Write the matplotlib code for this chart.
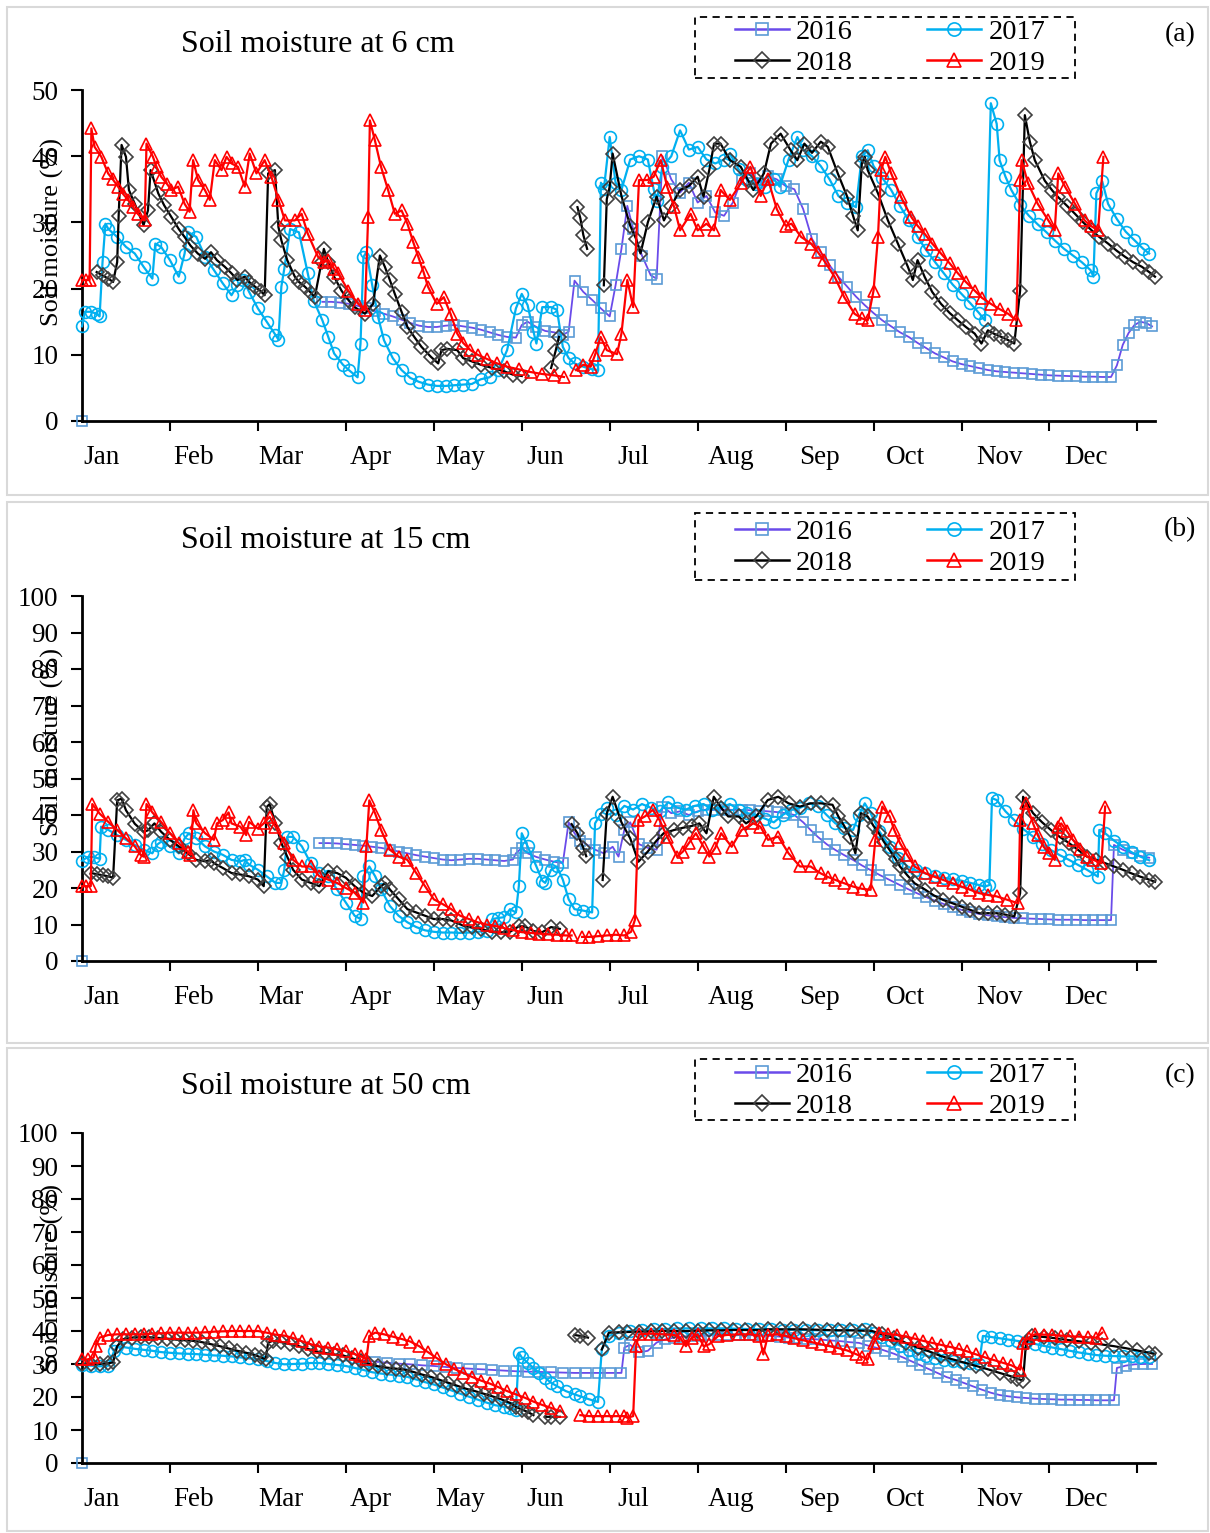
import numpy as np
import matplotlib
matplotlib.use("Agg")
import matplotlib.pyplot as plt
from matplotlib.lines import Line2D
from matplotlib.patches import Rectangle

nan = np.nan

years = ["2016", "2017", "2018", "2019"]
months = ["Jan", "Feb", "Mar", "Apr", "May", "Jun", "Jul", "Aug", "Sep", "Oct", "Nov", "Dec"]
month_label_days = [6.6, 38, 68, 98.4, 129, 158, 188, 221.5, 251.4, 281, 313, 342.6]
titles = ["Soil moisture at 6 cm", "Soil moisture at 15 cm", "Soil moisture at 50 cm"]
panel_tags = ["(a)", "(b)", "(c)"]
y_max = [50, 100, 100]

# ---------------- 6 cm (day of year, soil moisture %) ----------------
s16_6 = [(0,0),(1,nan),(82,18.0),(85,18.0),(88,17.9),(91,17.7),(94,17.4),(97,17.0),(100,16.6),(103,16.2),(106,15.8),(109,15.3),(112,14.8),(115,14.4),(118,14.2),(121,14.2),(124,14.4),(127,14.5),(130,14.3),(133,14.1),(136,13.8),(139,13.4),(142,13.0),(145,12.7),(148,12.6),(150,14.5),(152,15.0),(155,14.2),(158,13.6),(161,13.4),(164,13.0),(166,13.5),(168,21.2),(171,19.5),(174,18.3),(177,17.0),(180,15.8),(182,20.5),(184,26.0),(186,32.5),(188,29.0),(191,25.0),(194,22.0),(196,21.5),(198,40.0),(201,36.5),(204,34.5),(207,36.0),(210,33.0),(213,34.0),(216,31.5),(219,31.0),(222,33.0),(225,36.5),(228,37.5),(231,36.0),(234,37.0),(237,36.5),(240,35.5),(243,35.0),(246,32.0),(249,27.5),(252,25.5),(255,23.5),(258,21.8),(261,20.3),(264,18.8),(267,17.5),(270,16.3),(273,15.2),(276,14.3),(279,13.4),(282,12.7),(285,11.8),(288,11.0),(291,10.2),(294,9.6),(297,9.0),(300,8.6),(303,8.3),(306,8.0),(309,7.7),(312,7.5),(315,7.4),(318,7.3),(321,7.2),(324,7.1),(327,7.0),(330,6.9),(333,6.85),(336,6.8),(339,6.75),(342,6.7),(345,6.7),(348,6.65),(351,6.65),(353,8.4),(355,11.5),(357,13.3),(359,14.5),(361,15.0),(363,14.8),(365,14.3)]
s17_6 = [(0,14.3),(1,16.5),(3,16.5),(5,16.2),(6,15.8),(7,24.0),(8,29.8),(9,29.0),(12,27.8),(15,26.3),(18,25.3),(21,23.3),(24,21.5),(25,26.8),(27,26.3),(30,24.3),(33,21.8),(35,25.3),(36,28.6),(39,27.8),(42,24.8),(45,22.8),(48,20.8),(51,19.0),(53,20.5),(55,21.3),(57,19.5),(60,17.0),(63,15.0),(66,13.0),(67,12.3),(68,20.3),(69,23.0),(71,29.0),(74,28.5),(77,22.3),(79,18.2),(82,15.2),(84,12.7),(86,10.2),(89,8.5),(91,7.7),(94,6.6),(95,11.7),(96,24.8),(97,25.5),(99,20.5),(101,15.7),(103,12.2),(106,9.5),(109,7.7),(112,6.5),(115,5.9),(118,5.5),(121,5.3),(124,5.3),(127,5.4),(130,5.5),(133,5.6),(136,6.3),(139,6.6),(142,7.7),(145,10.7),(148,17.0),(150,19.2),(152,17.5),(154,13.5),(155,11.7),(157,17.2),(160,17.2),(162,16.8),(164,11.2),(166,9.5),(168,8.7),(171,8.2),(174,7.8),(176,7.7),(177,36.0),(178,35.0),(180,42.9),(182,36.0),(184,34.9),(187,39.5),(190,40.0),(193,39.5),(195,35.0),(196,33.2),(198,38.4),(201,40.0),(204,43.9),(207,41.0),(210,41.4),(213,39.5),(216,38.9),(219,39.5),(221,40.4),(224,38.0),(227,36.4),(230,35.8),(233,35.4),(236,36.5),(238,35.4),(241,39.5),(244,42.9),(246,41.0),(249,40.0),(252,38.5),(255,36.5),(258,34.0),(261,33.0),(264,32.3),(266,40.0),(268,40.9),(270,38.5),(273,36.7),(276,34.9),(279,32.5),(282,30.3),(285,27.8),(288,25.8),(291,24.0),(294,22.3),(297,20.6),(300,19.2),(303,17.8),(306,16.3),(308,15.2),(310,48.0),(312,44.9),(313,39.4),(315,36.9),(317,34.9),(320,32.6),(323,31.0),(326,29.7),(329,28.5),(332,27.2),(335,26.0),(338,25.0),(341,24.0),(344,22.8),(345,21.8),(346,34.4),(348,36.2),(350,32.8),(353,30.5),(356,28.6),(359,27.3),(362,26.0),(364,25.3)]
s18_6 = [(5,22.5),(7,22.0),(9,21.5),(10.6,21.0),(12,24.0),(12.5,31.0),(13.5,41.7),(15,39.9),(16,34.9),(18,32.8),(21,29.6),(22.5,31.8),(23.4,37.9),(26,34.4),(28,32.6),(30.5,30.8),(33,29.0),(35,27.8),(37,26.5),(39.5,25.3),(42,24.5),(44,25.5),(46,24.3),(48.7,23.3),(51,22.3),(53,21.3),(55.5,21.8),(57,21.0),(59,20.3),(61,19.6),(62.3,19.0),(63.5,37.4),(65.8,37.9),(67,29.3),(68,27.3),(70,24.3),(72.6,21.8),(74,21.0),(76,20.3),(78,19.4),(79.4,18.7),(81.7,24.0),(82.5,26.0),(84,24.0),(86,21.8),(88.5,19.7),(91,18.2),(93,17.2),(96.5,16.2),(99.3,17.7),(101.6,25.0),(103.3,23.3),(105,21.3),(106.7,19.2),(109,16.5),(111,14.2),(113.5,12.6),(115.8,11.2),(119,9.7),(121.5,8.7),(122.6,10.7),(124.6,10.9),(128,10.7),(130,9.5),(133,9.0),(136,8.5),(140,8.0),(144,7.5),(147,7.0),(150,6.8),(151,nan),(160,8.0),(161.5,10.5),(162.7,12.7),(163,nan),(169,32.3),(170,30.6),(171,28.1),(172.3,26.0),(173,nan),(178,20.5),(179,33.5),(180,35.4),(181,40.4),(184,34.0),(187,29.5),(189,27.5),(190.5,25.3),(193,30.0),(196,33.9),(198.5,30.3),(201,32.5),(204,34.9),(207,35.5),(210,36.9),(212,33.9),(214,38.0),(215.6,41.9),(217.8,41.9),(221,39.4),(224.7,38.4),(227,36.5),(229,34.9),(232.6,37.4),(235,41.9),(238.3,43.4),(241.7,40.9),(244,39.4),(246.4,41.9),(249,40.5),(252,42.2),(254.4,41.4),(257.8,37.4),(261,33.9),(263,31.0),(264.6,28.8),(266,38.9),(267,39.9),(268,37.9),(271.5,34.4),(274.9,30.3),(278.3,26.8),(281.7,23.3),(283.4,21.3),(285,24.3),(287.4,21.8),(290,19.5),(293,17.7),(296,16.3),(298.8,15.2),(301.5,14.2),(304.5,13.2),(306.8,11.7),(309,13.7),(311,13.2),(313.6,12.7),(316,12.2),(318,11.7),(320,19.7),(321.6,46.2),(323.3,42.2),(325,39.4),(328.4,36.3),(331,34.8),(333,33.8),(336,32.5),(338.7,31.3),(341.5,30.0),(344.4,28.8),(347,27.8),(350,26.8),(353,25.7),(355.8,24.8),(358.5,24.0),(361.5,23.3),(364,22.5),(366,21.8)]
s19_6 = [(0,21.3),(1.5,21.3),(2.6,21.3),(3.2,44.2),(4.3,41.4),(6.6,39.9),(8.9,37.4),(10.5,36.5),(12.3,35.4),(14,34.3),(15.7,33.4),(17.5,32.3),(19,31.3),(21.4,30.3),(22,41.9),(24.2,39.9),(25.5,38.3),(27,36.9),(29,35.8),(30.5,34.9),(32.8,35.4),(35,32.8),(36.7,31.6),(37.9,39.4),(39.6,36.4),(41.9,34.9),(43.6,33.4),(45.3,39.4),(47.6,37.9),(49.3,39.9),(51,38.9),(53.2,38.4),(55.5,35.4),(57.2,40.4),(59.5,37.4),(62.3,39.4),(64.6,36.9),(67,33.4),(69.2,30.3),(72.6,30.3),(74.9,31.3),(77,28.3),(80.5,24.8),(82.5,24.0),(84,24.3),(86,23.0),(87.4,22.3),(90.8,19.7),(94.2,17.7),(96.5,16.7),(97.6,30.8),(98.2,45.4),(99.9,42.4),(102,38.4),(104.4,34.9),(106.7,31.3),(109,31.8),(111,29.8),(113,27.0),(114.7,24.8),(116.5,22.5),(118,20.3),(121,17.7),(123.4,18.7),(125.7,16.2),(128,13.2),(130,11.8),(132.5,10.7),(135,10.0),(138,9.4),(141.6,8.7),(145,8.2),(149,7.8),(153,7.4),(157,7.1),(161,6.9),(164.4,6.65),(166,nan),(168.5,7.7),(171,8.5),(173.5,8.2),(175,10.0),(176.9,12.7),(179,10.7),(182.5,10.1),(184,13.2),(186,21.3),(188,17.2),(190,36.4),(192.8,36.4),(195,36.9),(197.4,39.4),(199.6,35.4),(202,32.3),(204,28.8),(207.6,31.3),(210,28.8),(213,29.8),(215.6,28.8),(217.8,34.9),(221,33.4),(224.7,35.9),(228,38.4),(231.5,34.0),(234,36.5),(237,32.0),(240,29.5),(242,29.8),(245.3,27.8),(248.7,26.8),(251,25.5),(253,24.3),(256.7,21.8),(260,18.7),(263.5,16.2),(266,15.5),(268,15.2),(270,19.7),(271.5,27.8),(272.6,37.9),(274,39.9),(276,37.4),(279.4,33.8),(282.9,30.8),(285,29.5),(287.4,28.3),(290,26.8),(293,25.3),(296,23.8),(298.8,22.3),(301.5,21.0),(304.5,19.7),(307,18.6),(310,17.7),(313,16.9),(315.9,16.2),(318.7,15.2),(320,36.4),(320.5,39.4),(322.7,35.9),(326,32.8),(329.6,30.3),(331.8,28.8),(333,37.4),(335.3,35.4),(338.7,32.8),(342,30.3),(344,29.5),(346.6,28.8),(348.4,39.9)]

# ---------------- 15 cm ----------------
s16_15 = [(0,0),(1,nan),(81,32.3),(84,32.3),(87,32.2),(90,32.0),(93,31.8),(96,31.6),(99,31.3),(102,31.0),(105,30.5),(108,30.0),(111,29.5),(114,29.0),(117,28.6),(120,28.2),(123,27.8),(126,27.6),(129,27.8),(132,28.0),(135,28.0),(138,27.8),(141,27.6),(144,27.4),(147,27.8),(148,29.5),(150,31.0),(152,29.5),(155,28.5),(158,27.8),(161,27.2),(164,26.8),(166,38.0),(168,35.0),(170,33.0),(172,32.0),(175,30.5),(178,29.5),(181,31.3),(183,28.6),(185,36.0),(187,38.0),(190,32.0),(193,31.0),(196,30.5),(198,42.3),(201,40.5),(204,41.0),(207,40.0),(210,41.0),(213,41.5),(216,41.4),(219,41.5),(222,41.4),(225,41.4),(228,41.3),(231,41.2),(234,41.0),(237,40.8),(240,40.5),(243,40.0),(246,38.0),(248.5,35.9),(251,34.0),(254,32.0),(257,30.4),(260,29.0),(263,27.7),(266,26.2),(269,24.9),(272,23.6),(275.5,22.2),(279,20.8),(282,19.6),(285,18.5),(288,17.5),(291,16.5),(294,15.6),(297,14.8),(300,14.0),(303,13.4),(306,12.9),(309,12.5),(312,12.2),(315,12.0),(318,11.8),(321,11.7),(324,11.6),(327,11.5),(330,11.4),(333,11.3),(336,11.3),(339,11.3),(342,11.2),(345,11.2),(348,11.2),(351,11.2),(352,31.8),(355,30.5),(358,29.5),(361,28.8),(364,28.3)]
s17_15 = [(0,27.5),(2,28.5),(4,28.5),(6,28.0),(6.5,36.8),(9,35.9),(12,34.5),(15,33.2),(18,31.8),(21,30.5),(24,29.5),(25.5,31.8),(27,32.7),(30,31.4),(33,29.5),(35,33.6),(36.5,35.0),(39,33.6),(42,31.4),(45,30.0),(48,29.1),(51,27.7),(54,27.3),(55.5,27.7),(57,26.4),(60,25.0),(63,23.2),(66,21.4),(68,21.4),(69,25.0),(70,34.0),(72,34.0),(75,31.4),(78,26.8),(81,24.1),(84,23.2),(87,19.6),(90,16.0),(93,12.4),(95,11.5),(96,23.2),(98,25.9),(100,23.2),(102,19.6),(105,15.1),(108,12.4),(111,10.6),(114,9.3),(117,8.4),(120,8.0),(123,7.8),(126,7.8),(129,7.7),(132,7.8),(135,8.0),(138,8.3),(140,11.5),(142,11.8),(144,12.0),(146,14.2),(148,13.3),(149,20.5),(150,35.0),(152,31.4),(155,25.9),(157,22.0),(158,21.4),(160,25.0),(162,25.9),(164,22.3),(166,16.9),(168,14.2),(171,13.8),(174,13.3),(175,37.7),(177,40.4),(179,42.0),(182,40.0),(185,42.5),(188,41.5),(191,43.0),(194,42.0),(197,41.0),(200,43.5),(203,42.0),(206,41.5),(209,42.5),(212,43.0),(215,41.5),(218,42.0),(221,43.0),(224,41.5),(227,40.5),(230,40.0),(233,39.0),(236,38.0),(239,40.0),(242,41.5),(245,42.0),(248,43.2),(251,42.5),(254,40.0),(257,37.7),(260,36.5),(263,35.9),(265,40.0),(267,43.2),(269,40.5),(272,35.5),(275.5,31.3),(278.5,28.2),(281.6,25.9),(284.5,24.8),(287.7,24.0),(291,23.3),(294,22.8),(297,22.4),(300,22.0),(303,21.4),(306,20.8),(308,20.4),(309.5,20.8),(310.4,44.6),(312,44.1),(315,41.0),(318,38.6),(321,36.2),(324.4,34.1),(327.5,32.1),(330.5,30.4),(333.5,29.0),(336.7,27.7),(339.8,26.3),(342.8,25.0),(346.5,23.1),(347,35.9),(349,35.0),(352,33.0),(355,31.3),(358,29.8),(361,28.6),(364,27.6)]
s18_15 = [(3,24.1),(5,23.8),(7,23.5),(9,23.2),(10.6,22.8),(12,44.0),(13.5,44.5),(15,41.3),(18,37.6),(21,35.4),(22.5,35.8),(24.7,37.7),(27,35.4),(30,33.2),(33,31.4),(36,29.5),(39,27.7),(42,27.3),(44,27.7),(45,26.8),(48,25.5),(51,24.1),(54,23.7),(57,23.2),(60,22.3),(62,20.5),(63,42.2),(64,43.0),(66,37.7),(68,32.3),(70,28.6),(72,25.0),(75,22.3),(78,21.4),(81,20.5),(84,24.6),(87,24.1),(90,22.8),(93,20.5),(96,18.7),(99,17.8),(102,20.5),(103.5,21.4),(105,19.6),(108,16.9),(111,14.2),(114,13.3),(117,12.4),(120,11.5),(123,11.5),(126,11.1),(130,9.7),(133,9.2),(136,8.8),(140,7.9),(143,7.9),(146,8.0),(149,9.5),(151,9.5),(154,8.2),(157,7.9),(160,9.3),(163,8.8),(164,nan),(167,37.5),(169,35.0),(171,31.0),(172,28.7),(173,nan),(177.6,22.2),(179,40.4),(181,45.0),(184,38.0),(187,33.6),(189.8,27.2),(193,30.0),(196,33.0),(198.4,35.0),(202,35.9),(205,36.5),(208,37.0),(210.6,37.7),(213,35.0),(215.5,45.0),(218,42.0),(220.4,39.6),(224,39.6),(226.5,37.7),(230,39.6),(233.9,44.1),(237.5,45.0),(241,43.2),(244.9,42.3),(248.5,43.2),(252,43.2),(256,42.8),(258,39.6),(260,37.0),(262,34.1),(263.8,29.5),(265.7,40.5),(268,39.6),(270,37.0),(271.8,35.0),(273.5,32.7),(275.5,30.4),(277.5,28.0),(279,25.9),(281.5,23.5),(284,21.3),(287.7,19.5),(290.5,18.0),(293.8,16.7),(297,15.8),(300,14.9),(303,14.0),(306,13.1),(309,13.1),(312,13.1),(315,12.7),(318,12.2),(320,18.6),(321,45.0),(324.4,40.5),(327.5,38.0),(330.5,35.9),(333.5,34.0),(336.7,32.3),(339.8,30.4),(342.8,28.6),(346,27.7),(349,26.8),(352,25.9),(355,25.0),(358,24.0),(361,23.1),(364,22.3),(366,21.7)]
s19_15 = [(0,20.5),(1.5,20.5),(3,20.5),(3.5,43.0),(6,40.4),(9,38.1),(12,35.9),(15,33.6),(18,31.4),(20,29.1),(21,28.6),(22,43.0),(24,40.7),(27,38.1),(30,35.0),(33,32.3),(36,30.0),(37,29.1),(38,41.3),(39,37.7),(42,35.0),(45,33.2),(46,37.7),(48,38.6),(50,40.7),(51,37.7),(54,36.8),(56,34.5),(57,38.1),(60,36.3),(62,37.7),(64,39.5),(66,36.8),(69,32.3),(72,27.7),(75,25.9),(78,25.9),(81,23.2),(84,22.3),(87,21.4),(90,20.0),(93,18.7),(96,16.0),(97,31.4),(98,44.0),(100,40.4),(102,35.9),(105,30.5),(108,28.6),(111,27.7),(114,24.1),(117,20.5),(120,16.9),(123,15.6),(126,14.2),(129,12.4),(132,11.5),(135,10.6),(138,10.0),(141,9.6),(144,9.0),(147,8.5),(150,7.9),(153,7.7),(156,7.5),(159,7.3),(162,7.2),(165,7.0),(167,7.0),(168,nan),(170.6,6.6),(173,6.6),(176,6.8),(179,7.0),(182,7.2),(185,7.0),(187.3,8.0),(188.6,11.3),(189.8,38.6),(192,39.6),(194.7,41.4),(197,38.6),(199.6,34.1),(203,28.6),(205,30.0),(207,32.3),(209.4,35.0),(212,31.3),(214,28.6),(216,31.0),(218,35.0),(221.6,31.3),(225,35.9),(229,37.7),(231.4,36.8),(234,33.2),(237.5,34.1),(241,29.5),(244.9,25.9),(248.5,25.9),(252,24.0),(254.5,23.0),(257,22.2),(260,21.3),(263,20.4),(266,19.8),(269,19.5),(270.6,33.2),(273,42.3),(275.5,39.6),(277,36.0),(279,32.3),(281.5,29.0),(284,25.9),(287.7,24.0),(291,23.0),(293.8,22.2),(297,21.3),(300,20.4),(303,19.5),(306,18.6),(309,18.1),(312,17.7),(315.5,16.8),(319.4,15.8),(320,38.6),(322,43.2),(324.4,37.7),(326,34.5),(328,31.3),(330,29.5),(331.8,27.7),(333,36.8),(334,37.7),(336,35.5),(338,33.2),(340.5,30.8),(342.8,28.6),(345,27.7),(347.7,26.8),(349,42.3)]

# ---------------- 50 cm ----------------
s16_50 = [(0,0),(1,nan),(96,31.0),(100,30.7),(104,30.4),(108,30.1),(112,29.9),(116,29.6),(120,29.4),(124,29.1),(128,28.8),(132,28.6),(136,28.4),(140,28.2),(144,28.0),(148,27.8),(152,27.7),(156,27.6),(160,27.5),(164,27.4),(168,27.3),(172,27.3),(176,27.3),(180,27.3),(184,27.3),(185,35.0),(187,35.8),(190,33.5),(193,34.0),(196,36.5),(199,37.5),(202,38.0),(205,38.3),(208,38.5),(211,38.5),(214,38.7),(217,38.8),(220,38.8),(223,38.8),(226,38.8),(229,38.7),(232,38.6),(235,38.5),(238,38.3),(241,38.0),(244,37.8),(247,37.6),(250,37.5),(253,37.3),(256,37.1),(259,36.9),(262,36.6),(265,36.4),(268,35.6),(271,34.9),(274,34.0),(277,33.1),(280,32.0),(283,30.8),(286,29.6),(289,28.4),(292,27.2),(295,26.0),(298,25.2),(301,24.2),(304,23.2),(307,22.2),(310,21.3),(313,20.6),(316,20.2),(319,19.9),(322,19.7),(325,19.5),(328,19.4),(331,19.3),(334,19.2),(337,19.2),(340,19.1),(343,19.1),(346,19.0),(349,19.0),(352,19.0),(353,28.8),(356,29.5),(359,29.9),(362,30.0),(365,30.0)]
s17_50 = [(0,29.8),(3,29.5),(6,29.3),(9,29.5),(11,34.0),(12,35.4),(15,35.0),(18,34.6),(21,34.3),(24,34.0),(27,33.6),(30,33.4),(33,33.2),(36,33.1),(39,33.0),(42,32.8),(45,32.6),(48,32.5),(51,32.3),(54,32.0),(57,31.7),(60,31.4),(63,30.9),(66,30.3),(69,29.9),(72,30.0),(75,30.1),(78,30.3),(81,30.3),(84,30.0),(87,29.7),(90,29.4),(93,28.8),(96,28.2),(99,27.5),(102,27.1),(105,26.8),(108,26.5),(111,26.1),(114,25.3),(117,24.5),(120,23.8),(123,22.9),(126,22.0),(129,21.0),(132,20.1),(135,19.2),(138,18.3),(141,17.5),(144,17.0),(146,16.6),(148,16.2),(149,33.4),(150,32.0),(152,30.4),(154,28.8),(156,27.3),(158,25.8),(160,24.3),(162,23.3),(165,21.8),(168,20.8),(170,20.2),(173,19.3),(176,18.5),(177.3,34.4),(179.7,38.5),(183,39.5),(187,40.0),(191,40.3),(195,40.5),(199,40.6),(203,40.8),(207,40.8),(211,40.8),(215,40.8),(219,40.8),(223,40.7),(227,40.6),(231,40.5),(235,40.5),(239,40.4),(243,40.4),(247,40.3),(251,40.2),(255,40.2),(259,40.2),(263,40.3),(267,40.5),(270,39.5),(273,38.3),(276,36.9),(279,35.6),(282,34.3),(285,33.3),(288,32.5),(291,31.8),(294,31.2),(297,30.8),(300,30.5),(303,30.2),(306,30.0),(307.3,38.5),(310,38.2),(313,37.8),(316,37.4),(319,37.0),(322,36.6),(325,36.1),(328,35.5),(331,35.0),(334,34.5),(337,34.0),(340,33.5),(343,33.1),(346,32.7),(349,32.5),(352,32.4),(355,32.3),(358,32.3),(361,32.2),(364,32.0)]
s18_50 = [(0,29.9),(3,30.0),(6,30.0),(9,30.2),(10.6,30.5),(12,35.4),(14,37.5),(17,38.0),(20,38.2),(23,38.1),(26,37.9),(29,37.7),(32,37.4),(35,37.2),(38,37.0),(41,36.6),(44,36.0),(47,35.4),(50,34.7),(53,34.0),(56,33.4),(59,32.7),(61,32.0),(62.6,31.4),(63.5,36.5),(65,37.0),(68,36.6),(71,36.0),(74,35.4),(77,34.6),(80,33.8),(83,33.3),(86,32.9),(89,32.6),(92,31.8),(95,30.9),(98,30.0),(101,29.3),(104,28.9),(107,28.6),(110,28.3),(113,27.6),(116,26.8),(119,26.1),(122,25.2),(125,24.3),(128,23.4),(131,22.5),(134,21.8),(137,21.0),(140,20.2),(143,19.3),(146,18.2),(148,17.0),(150,16.2),(152,15.5),(154,14.5),(155,nan),(158,14.0),(160,14.0),(163,14.0),(164,nan),(168,38.8),(170,38.5),(172.6,38.0),(173,nan),(177.3,34.4),(179.7,39.5),(183,39.6),(186,39.7),(190,39.8),(194,39.9),(198,40.0),(202,40.0),(206,40.0),(210,40.1),(214,40.2),(218,40.2),(222,40.3),(226,40.3),(230,40.3),(234,40.5),(238,40.5),(242,40.5),(246,40.5),(250,40.4),(254,40.3),(258,40.2),(262,40.2),(266,40.1),(269.5,40.0),(273,39.0),(277,37.8),(281,36.4),(285,35.0),(289,33.8),(293,32.4),(297,31.4),(301,30.4),(305,29.4),(309,28.4),(313,27.3),(316.8,26.3),(319,25.5),(321,25.0),(322,36.4),(324,38.5),(328,38.2),(332,37.8),(336,37.3),(340,36.9),(344,36.4),(348,35.9),(352,35.4),(356,34.8),(360,34.1),(364,33.4),(366,33.0)]
s19_50 = [(0,31.4),(2,31.4),(4,32.0),(4.7,35.4),(6,38.0),(9,38.8),(12,39.0),(15,39.0),(18,39.0),(21,39.0),(24,39.2),(27,39.3),(30,39.5),(33,39.5),(36,39.5),(39,39.5),(42,39.6),(45,39.8),(48,39.9),(51,40.0),(54,40.0),(57,40.0),(60,40.0),(63,39.5),(66,38.9),(69,38.6),(72,37.9),(75,36.9),(78,36.0),(81,35.3),(84,35.0),(87,34.5),(90,33.9),(93,33.0),(95,32.4),(97,31.4),(98,38.5),(100,39.5),(103,39.0),(106,38.3),(109,37.6),(112,36.8),(115,35.4),(118,33.6),(121,31.8),(124,30.0),(127,28.5),(130,27.3),(133,26.1),(136,25.0),(139,24.1),(142,23.0),(145,21.8),(148,20.8),(151,19.8),(154,18.6),(157,17.6),(160,16.7),(163,15.7),(164,nan),(170,14.5),(173,14.2),(176,14.2),(179,14.2),(182,14.2),(185,14.2),(186,13.7),(188,14.2),(189,35.4),(190,39.0),(194,39.2),(198,39.0),(202,38.8),(204,38.0),(206,35.4),(208,38.0),(210,39.0),(212,35.4),(214,36.0),(217,38.5),(220,38.8),(224,39.0),(228,39.0),(231,38.6),(232.4,32.9),(234,38.8),(237,39.0),(240,38.5),(243,37.8),(246,37.2),(249,36.6),(252,36.0),(255,35.4),(258,34.8),(261,34.1),(264,33.0),(266,32.2),(268,31.4),(270,36.4),(272,39.5),(275,39.1),(278,38.8),(281,38.3),(284,37.7),(287,37.0),(290,36.4),(293,35.8),(296,35.2),(299,34.6),(302,33.8),(305,32.9),(308,32.0),(311,31.2),(314,30.4),(317,29.6),(320,28.3),(321,36.4),(323,38.0),(325,39.0),(328,38.9),(331,38.8),(334,38.6),(337,38.4),(340,38.3),(343,38.1),(346,38.0),(348,39.5)]

panels = [
    [s16_6, s17_6, s18_6, s19_6],
    [s16_15, s17_15, s18_15, s19_15],
    [s16_50, s17_50, s18_50, s19_50],
]

# series styles: (line color, marker, marker edge color, marker size, line width)
styles = [
    ("#6A4BEA", "s", "#5B9BD5", 7.5, 1.3),
    ("#00B0F0", "o", "#00B0F0", 8.5, 1.6),
    ("#000000", "D", "#404040", 7.0, 1.6),
    ("#FF0000", "^", "#FF0000", 9.0, 1.6),
]

FONT = "Liberation Serif"
plt.rcParams["font.family"] = [FONT, "DejaVu Serif"]

W, H = 1210, 1533
fig = plt.figure(figsize=(W / 100, H / 100), dpi=100)


def fx(x):
    return x / W


def fy(y):
    return 1 - y / H


# panel frames (pixel boxes)
frames = [(7, 7, 1208, 495), (7, 502, 1208, 1043), (7, 1048, 1208, 1531)]
for (x0, y0, x1, y1) in frames:
    fig.patches.append(Rectangle((fx(x0), fy(y1)), fx(x1 - x0), (y1 - y0) / H,
                                 transform=fig.transFigure, fill=False,
                                 edgecolor="#D9D9D9", lw=1.5, zorder=0))

# axes boxes in pixels: (top, bottom)
ax_rows = [(90, 421), (596, 961), (1133, 1463)]
ax_left, ax_right = 82, 1155
title_y = [45, 541, 1087]
legend_rows = [(31, 62), (530, 563), (1074, 1105)]
legend_boxes = [(695, 17, 1075, 78), (695, 513, 1075, 580), (695, 1059, 1075, 1120)]
tag_y = [35, 530, 1076]
ylabel_y = [232, 742, 1278]

# legend order so that rows read 2016, 2017 / 2018, 2019
leg_order = [0, 2, 1, 3]

for i in range(3):
    top, bot = ax_rows[i]
    ax = fig.add_axes([fx(ax_left), fy(bot), fx(ax_right - ax_left), (bot - top) / H])
    for j, series in enumerate(panels[i]):
        arr = np.array(series, dtype=float)
        lc, mk, mc, ms, lw = styles[j]
        ax.plot(arr[:, 0], arr[:, 1], color=lc, lw=lw, marker=mk, ms=ms,
                mfc="none", mec=mc, mew=1.2, zorder=2 + j, clip_on=False)
    ax.set_xlim(0, 366)
    ax.set_ylim(0, y_max[i])
    ax.set_yticks(np.arange(0, y_max[i] + 1, 10))
    ax.set_xticks(np.arange(30, 361, 30))
    ax.set_xticklabels([])
    ax.set_xticks(month_label_days, minor=True)
    ax.set_xticklabels(months, minor=True)
    ax.tick_params(axis="x", which="major", direction="out", length=7, width=1.5, color="black")
    ax.tick_params(axis="x", which="minor", length=0, pad=17, labelsize=19.5)
    ax.tick_params(axis="y", which="major", direction="out", length=8, width=1.5,
                   labelsize=19.5, pad=9)
    for s in ["top", "right"]:
        ax.spines[s].set_visible(False)
    for s in ["left", "bottom"]:
        ax.spines[s].set_linewidth(2)
    ax.patch.set_alpha(0)

    # title, tag, y label
    fig.text(fx(181), fy(title_y[i]), titles[i], ha="left", va="center", fontsize=23)
    fig.text(fx(1180), fy(tag_y[i]), panel_tags[i], ha="center", va="center", fontsize=20)
    fig.text(fx(52), fy(ylabel_y[i]), "Soil moisture (%)", rotation=90,
             ha="center", va="center", fontsize=19)

    # legend
    handles = [Line2D([], [], color=st[0], marker=st[1], mfc="none", mec=st[2],
                      ms=st[3] + 1.0, mew=1.2, lw=1.8) for st in styles]
    r0, r1 = legend_rows[i]
    leg = fig.legend([handles[k] for k in leg_order], [years[k] for k in leg_order],
                     ncol=2, frameon=False, loc="center",
                     bbox_to_anchor=(fx(890), fy((r0 + r1) / 2 + 1)), fontsize=20.5,
                     handlelength=1.9, handletextpad=0.25, columnspacing=2.6,
                     labelspacing=0.2, borderpad=0.0)
    bx0, by0, bx1, by1 = legend_boxes[i]
    fig.patches.append(Rectangle((fx(bx0), fy(by1)), fx(bx1 - bx0), (by1 - by0) / H,
                                 transform=fig.transFigure, fill=False,
                                 edgecolor="black", lw=1.3, linestyle=(0, (4, 3)), zorder=5))

fig.savefig("out.png", dpi=100)
